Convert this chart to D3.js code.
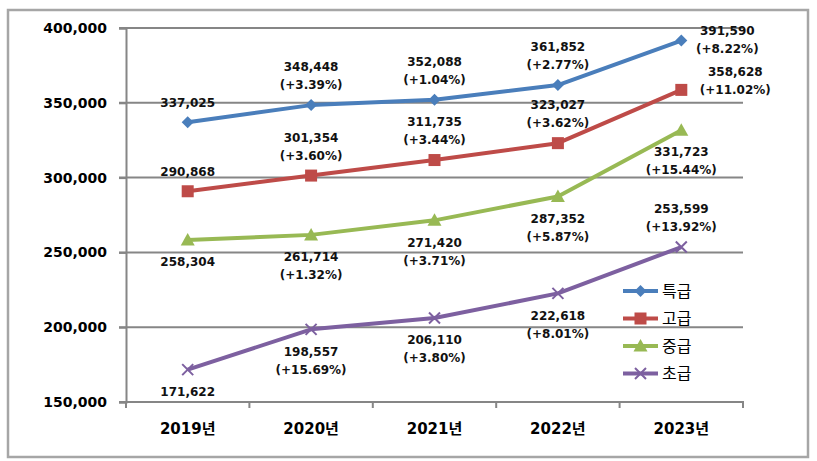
<!DOCTYPE html>
<html>
<head>
<meta charset="utf-8">
<script src="https://cdn.jsdelivr.net/npm/d3@7"></script>
<style>
  body { margin: 0; background: #fff; }
  svg { display: block; }
</style>
</head>
<body>
<div id="chart"></div>
<script>
// Data
const years = ['2019년', '2020년', '2021년', '2022년', '2023년'];
const seriesNames = ['특급', '고급', '중급', '초급'];
const special = [337025, 348448, 352088, 361852, 391590];
const advanced = [290868, 301354, 311735, 323027, 358628];
const intermediate = [258304, 261714, 271420, 287352, 331723];
const beginner = [171622, 198557, 206110, 222618, 253599];
const specialPct = [null, '+3.39%', '+1.04%', '+2.77%', '+8.22%'];
const advancedPct = [null, '+3.60%', '+3.44%', '+3.62%', '+11.02%'];
const intermediatePct = [null, '+1.32%', '+3.71%', '+5.87%', '+15.44%'];
const beginnerPct = [null, '+15.69%', '+3.80%', '+8.01%', '+13.92%'];
const yTicks = [150000, 200000, 250000, 300000, 350000, 400000];

const width = 817, height = 461;
const margin = { top: 28, right: 74, bottom: 59, left: 126 };

// Series styling
const series = [
  { name: seriesNames[0], values: special, pct: specialPct, color: '#4A7EBB', marker: 'diamond',
    place: ['above', 'above', 'above', 'above', 'right'] },
  { name: seriesNames[1], values: advanced, pct: advancedPct, color: '#BE4B48', marker: 'square',
    place: ['above', 'above', 'above', 'above', 'rightLow'] },
  { name: seriesNames[2], values: intermediate, pct: intermediatePct, color: '#98B954', marker: 'triangle',
    place: ['below', 'below', 'below', 'below', 'below'] },
  { name: seriesNames[3], values: beginner, pct: beginnerPct, color: '#7D60A0', marker: 'x',
    place: ['below', 'below', 'below', 'below', 'above'] }
];

const svg = d3.select('#chart').append('svg')
  .attr('width', width)
  .attr('height', height);

// Outer frame
svg.append('rect')
  .attr('x', 8).attr('y', 10)
  .attr('width', 800).attr('height', 447)
  .attr('fill', '#fff')
  .attr('stroke', '#A6A6A6')
  .attr('stroke-width', 2.5);

const x = d3.scaleBand()
  .domain(years)
  .range([margin.left, width - margin.right]);

const y = d3.scaleLinear()
  .domain([150000, 400000])
  .range([height - margin.bottom, margin.top]);

const numFont = '"DejaVu Sans", "Noto Sans CJK KR", sans-serif';

// Grid lines
svg.append('g')
  .attr('class', 'grid')
  .selectAll('line')
  .data(yTicks)
  .join('line')
  .attr('x1', margin.left - 7)
  .attr('x2', width - margin.right)
  .attr('y1', d => y(d))
  .attr('y2', d => y(d))
  .attr('stroke', '#868686')
  .attr('stroke-width', 2);

// Y axis
const yAxis = d3.axisLeft(y)
  .tickValues(yTicks)
  .tickFormat(d3.format(','))
  .tickSize(7)
  .tickPadding(12);

const yAxisGroup = svg.append('g')
  .attr('class', 'y-axis')
  .attr('transform', `translate(${margin.left},0)`)
  .call(yAxis);

yAxisGroup.select('.domain').attr('stroke', '#868686').attr('stroke-width', 2);
yAxisGroup.selectAll('line').attr('stroke', '#868686').attr('stroke-width', 2);
yAxisGroup.selectAll('text')
  .style('font-family', numFont)
  .style('font-weight', 'bold')
  .style('font-size', '14px')
  .attr('fill', '#000');

// X axis
const xAxis = d3.axisBottom(x)
  .tickSize(0)
  .tickPadding(21);

const xAxisGroup = svg.append('g')
  .attr('class', 'x-axis')
  .attr('transform', `translate(0,${height - margin.bottom})`)
  .call(xAxis);

xAxisGroup.select('.domain').remove();
xAxisGroup.selectAll('text')
  .style('font-family', numFont)
  .style('font-weight', 'bold')
  .style('font-size', '15px')
  .attr('fill', '#000');

xAxisGroup.append('line')
  .attr('x1', margin.left - 1)
  .attr('x2', width - margin.right + 1)
  .attr('stroke', '#868686')
  .attr('stroke-width', 2);

// Boundary ticks between categories
const boundaries = years.map(d => x(d)).concat([x.range()[1]]);
xAxisGroup.selectAll('.bound')
  .data(boundaries)
  .join('line')
  .attr('class', 'bound')
  .attr('x1', d => d).attr('x2', d => d)
  .attr('y1', 0).attr('y2', 6)
  .attr('stroke', '#868686')
  .attr('stroke-width', 2);

const cx = d => x(d) + x.bandwidth() / 2;

// Marker drawing
function drawMarker(g, type, color, size) {
  const s = size || 1;
  if (type === 'diamond') {
    g.append('path').attr('d', `M0,${-6 * s}L${6 * s},0L0,${6 * s}L${-6 * s},0Z`).attr('fill', color);
  } else if (type === 'square') {
    g.append('rect').attr('x', -6 * s).attr('y', -6 * s).attr('width', 12 * s).attr('height', 12 * s).attr('fill', color);
  } else if (type === 'triangle') {
    g.append('path').attr('d', `M0,${-7 * s}L${7 * s},${5.5 * s}L${-7 * s},${5.5 * s}Z`).attr('fill', color);
  } else if (type === 'x') {
    g.append('path').attr('d', `M${-5.5 * s},${-5.5 * s}L${5.5 * s},${5.5 * s}M${-5.5 * s},${5.5 * s}L${5.5 * s},${-5.5 * s}`)
      .attr('stroke', color).attr('stroke-width', 2);
  }
}

const line = d3.line()
  .x((d, i) => cx(years[i]))
  .y(d => y(d));

const linesGroup = svg.append('g').attr('class', 'lines');

series.forEach(s => {
  linesGroup.append('path')
    .datum(s.values)
    .attr('fill', 'none')
    .attr('stroke', s.color)
    .attr('stroke-width', 4)
    .attr('stroke-linejoin', 'round')
    .attr('d', line);

  s.values.forEach((v, i) => {
    const g = linesGroup.append('g')
      .attr('transform', `translate(${cx(years[i])},${y(v)})`);
    drawMarker(g, s.marker, s.color);
  });
});

// Data labels
const labelsGroup = svg.append('g').attr('class', 'labels')
  .style('font-family', numFont)
  .style('font-weight', 'bold')
  .style('font-size', '12px')
  .attr('fill', '#111');

series.forEach(s => {
  s.values.forEach((v, i) => {
    const px = cx(years[i]);
    const py = y(v);
    const lines = [d3.format(',')(v)];
    if (s.pct[i]) lines.push(`(${s.pct[i]})`);
    const place = s.place[i];
    let lx = px, ly;
    if (place === 'above') {
      ly = py - 20 - (lines.length - 1) * 18;
    } else if (place === 'below') {
      ly = py + 22;
    } else if (place === 'right') {
      lx = px + 46; ly = py - 10;
    } else {
      lx = px + 54; ly = py - 18;
    }
    lines.forEach((t, k) => {
      labelsGroup.append('text')
        .attr('x', lx)
        .attr('y', ly + k * 18)
        .attr('dy', '0.36em')
        .attr('text-anchor', 'middle')
        .text(t);
    });
  });
});

// Legend
const legend = svg.append('g').attr('class', 'legend')
  .attr('transform', 'translate(623,291)');

series.forEach((s, i) => {
  const row = legend.append('g').attr('transform', `translate(0,${i * 27.5})`);
  row.append('line')
    .attr('x1', 0).attr('x2', 35)
    .attr('stroke', s.color)
    .attr('stroke-width', 4);
  const m = row.append('g').attr('transform', 'translate(17.5,0)');
  drawMarker(m, s.marker, s.color);
  row.append('text')
    .attr('x', 39)
    .attr('dy', '0.36em')
    .style('font-family', '"Noto Sans CJK KR", sans-serif')
    .style('font-size', '16px')
    .attr('fill', '#000')
    .text(s.name);
});
</script>
</body>
</html>
